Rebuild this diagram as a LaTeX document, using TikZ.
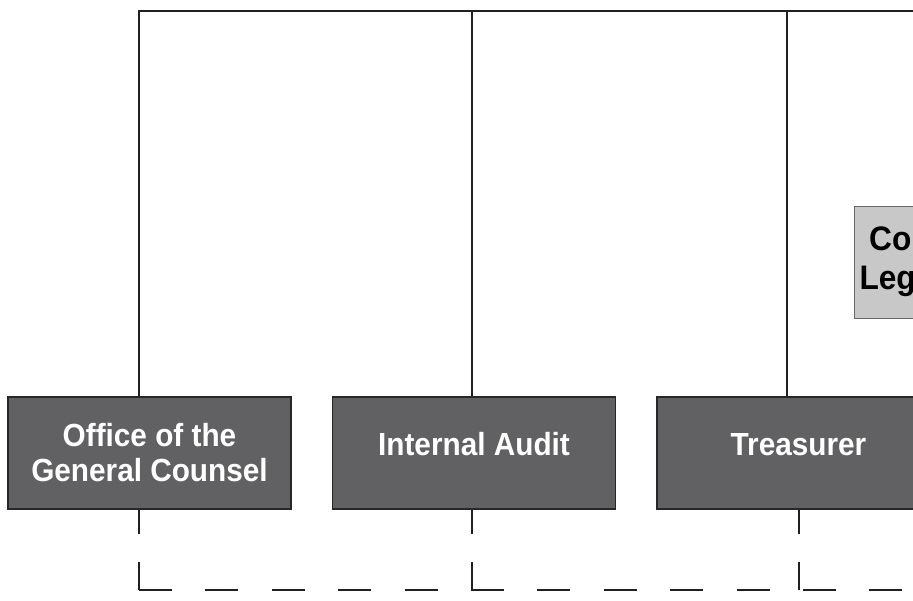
\documentclass[tikz,border=0pt]{standalone}
\usepackage{fontspec}
\usepackage{tikz}
\usetikzlibrary{positioning}
\newfontfamily\orgfont[FakeStretch=0.93]{Liberation Sans}
\definecolor{unitfill}{RGB}{97,96,99}
\definecolor{unitline}{RGB}{40,38,40}
\definecolor{staffill}{RGB}{200,200,200}
\definecolor{staffline}{RGB}{105,105,105}
\definecolor{linkcol}{RGB}{35,31,32}
\tikzset{unit/.style={
  draw=unitline, line width=1.5pt,
  fill=unitfill,
  text=white,
  font=\orgfont\bfseries\fontsize{32}{35}\selectfont,
  minimum width=283pt, minimum height=112pt,
  inner sep=0pt,
  align=center
}}
\tikzset{oneline/.style={text height=23pt, text depth=18pt}}
\tikzset{staffunit/.style={
  draw=staffline, line width=1pt,
  fill=staffill,
  text=black,
  font=\orgfont\bfseries\fontsize{34}{39}\selectfont,
  minimum height=112pt,
  inner xsep=5pt,
  align=center,
  anchor=west
}}
\tikzset{link/.style={draw=linkcol, line width=2pt}}
\tikzset{buslink/.style={link, dash pattern=on 33pt off 33.4pt}}
\tikzset{droplink/.style={link, dash pattern=on 28pt off 28pt}}

\begin{document}
\begin{tikzpicture}[x=1pt,y=-1pt]
    \useasboundingbox (0,0) rectangle (913,600);
    \node (ogc) [unit] at (149.5,453) {Office of the\\General Counsel};
    \node (audit) [unit,oneline] at (474,453) {Internal Audit};
    \node (treas) [unit,oneline] at (798.5,453) {Treasurer};
    \node (legal) [staffunit] at (854,262) {Corporate\\Legal Dept.};
    \coordinate (top) at (138,11);
    \coordinate (topend) at (940,11);
    \coordinate (d1) at (139,11);
    \coordinate (d2) at (472,11);
    \coordinate (d3) at (787,11);
    \coordinate (b1) at (139,590);
    \coordinate (b2) at (472,590);
    \coordinate (b3) at (799,590);
    \coordinate (busend) at (940,590);
    \draw [link] (top) -- (topend);
    \draw [link] (d1) -- (d1 |- ogc.north);
    \draw [link] (d2) -- (d2 |- audit.north);
    \draw [link] (d3) -- (d3 |- treas.north);
    \draw [buslink] (b1) -- (busend);
    \draw [droplink] (b1) -- (b1 |- ogc.south);
    \draw [droplink] (b2) -- (b2 |- audit.south);
    \draw [droplink] (b3) -- (b3 |- treas.south);
  \end{tikzpicture}
\end{document}
